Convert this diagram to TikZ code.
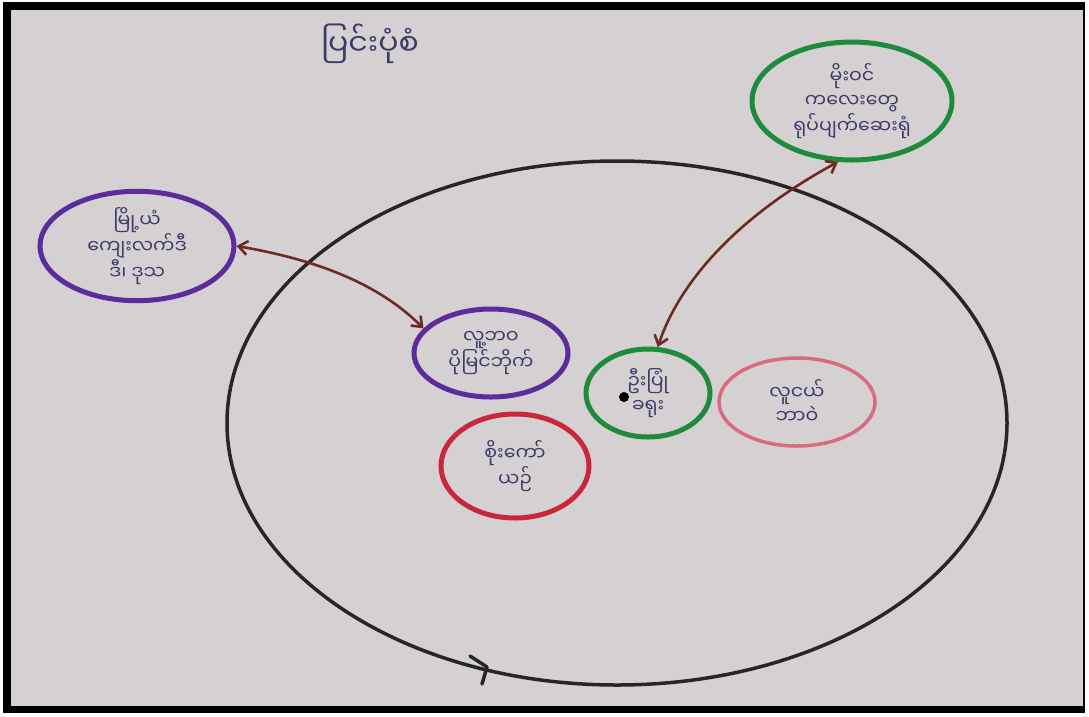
\documentclass[tikz,border=0pt]{standalone}
\usepackage{fontspec}
\newfontfamily\mmfont[Script=Myanmar]{Noto Sans Myanmar UI}
\usetikzlibrary{arrows.meta,shapes.geometric}
\definecolor{paper}{HTML}{D5D1D3}
\definecolor{ink}{HTML}{3E3A68}
\definecolor{pengreen}{HTML}{1E8A3C}
\definecolor{penpurple}{HTML}{5B2C9A}
\definecolor{penred}{HTML}{C8283A}
\definecolor{penpink}{HTML}{D96A80}
\definecolor{penbrown}{HTML}{6E2A22}

\begin{document}
\begin{tikzpicture}[x=1pt,y=-1pt,
    bubble/.style={ellipse, line width=5pt, align=center, inner sep=0pt, text=ink,
      font=\mmfont\fontsize{19}{24}\selectfont},
    link/.style={penbrown, line width=2.6pt,
      {Straight Barb[length=9pt,width=14pt]}-{Straight Barb[length=9pt,width=14pt]}}]
    % paper and frame
    \fill[white] (0,0) rectangle (1089,716);
    \fill[black] (3,2) rectangle (1085,713);
    \fill[paper] (11,10) rectangle (1083,706);
    \useasboundingbox (0,0) rectangle (1089,716);

    \node[text=ink, font=\mmfont\fontsize{30}{34}\selectfont] (title) at (370,44) {ပြင်းပုံစံ};

    % big circle with its mark
    \draw[line width=3.5pt, black!85] (617,423) ellipse [x radius=390, y radius=262];
    \draw[line width=3.5pt, black!85, line cap=round, line join=round] (470,656) -- (487,667) -- (482,684);

    \node[bubble, draw=pengreen, minimum width=200pt, minimum height=118pt] (culture) at (852,101) {မိုးဝင်\\ကလေးတွေ\\ရုပ်ပျက်ဆေးရုံ};
    \node[bubble, draw=penpurple, minimum width=194pt, minimum height=104pt] (region) at (137,246) {မြို့ယံ\\ကျေးလက်ဒီ\\ဒီ၊ ဒုသ};
    \node[bubble, draw=penpurple, minimum width=154pt, minimum height=88pt] (life) at (491,353) {လူ့ဘဝ\\ပိုမြင်ဘိုက်};
    \node[bubble, draw=penred, minimum width=148pt, minimum height=104pt] (friend) at (515,466) {စိုးကော်\\ယဉ်};
    \node[bubble, draw=penpink, line width=3.5pt, minimum width=156pt, minimum height=88pt] (youth) at (797,402) {လူငယ်\\ဘာဝဲ};
    \node[bubble, draw=pengreen, minimum width=124pt, minimum height=88pt] (self) at (648,393) {ဦးပြုံ\\ခရုး};
    \fill[black] (624,397) circle (5pt);

    % links
    \draw[link] (region.east) .. controls (330,262) and (385,290) .. (life.160);
    \draw[link] (culture.-103) .. controls (740,215) and (680,280) .. (self.78);
\end{tikzpicture}
\end{document}
